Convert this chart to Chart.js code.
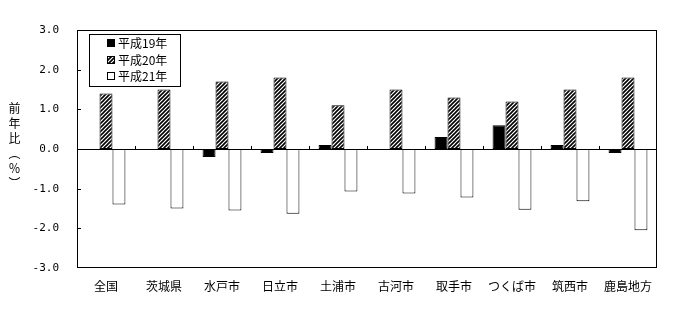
<!DOCTYPE html>
<html>
<head>
<meta charset="utf-8">
<script src="https://cdn.jsdelivr.net/npm/chart.js@4/dist/chart.umd.min.js"></script>
<style>
  html, body { margin: 0; padding: 0; background: #fff; }
  .wrap { position: relative; width: 673px; height: 312px; }
  #yTitle {
    position: absolute; left: 7px; top: 102px;
    writing-mode: vertical-rl;
    font: 12px "Noto Sans CJK JP", sans-serif;
    letter-spacing: 3px; line-height: 14px; color: #000;
  }
</style>
</head>
<body>
<div class="wrap">
  <canvas id="chart" width="673" height="312"></canvas>
  <div id="yTitle">前年比（％）</div>
</div>
<script>
// ── Data ─────────────────────────────────────────────────────────
const categories = ['全国', '茨城県', '水戸市', '日立市', '土浦市', '古河市', '取手市', 'つくば市', '筑西市', '鹿島地方'];
const seriesNames = ['平成19年', '平成20年', '平成21年'];
const h19 = [0, 0, -0.2, -0.1, 0.1, 0, 0.3, 0.6, 0.1, -0.1];
const h20 = [1.4, 1.5, 1.7, 1.8, 1.1, 1.5, 1.3, 1.2, 1.5, 1.8];
const h21 = [-1.4, -1.5, -1.55, -1.63, -1.07, -1.12, -1.22, -1.53, -1.32, -2.05];
const yTicks = [-3, -2, -1, 0, 1, 2, 3];

const FONT = '"Noto Sans CJK JP", sans-serif';

// ── Hatch pattern (////) ─────────────────────────────────────────
function hatch() {
  const c = document.createElement('canvas');
  c.width = 4; c.height = 4;
  const g = c.getContext('2d');
  g.fillStyle = '#fff'; g.fillRect(0, 0, 4, 4);
  g.strokeStyle = '#000'; g.lineWidth = 1.6;
  g.beginPath();
  g.moveTo(-1, 5); g.lineTo(5, -1);
  g.moveTo(-1, 1); g.lineTo(1, -1);
  g.moveTo(3, 5); g.lineTo(5, 3);
  g.stroke();
  return g.createPattern(c, 'repeat');
}
const HATCH = hatch();
const fills = ['#000', HATCH, '#fff'];

// ── Frame, zero line, ticks, legend ──────────────────────────────
const framePlugin = {
  id: 'frame',
  afterDatasetsDraw(chart) {
    const { ctx, chartArea: a, scales: { x, y } } = chart;
    const L = Math.round(a.left), R = Math.round(a.right);
    const T = Math.round(a.top), B = Math.round(a.bottom);
    ctx.save();
    ctx.fillStyle = '#000';
    // box
    ctx.fillRect(L, T, R - L, 1);
    ctx.fillRect(L, B - 1, R - L, 1);
    ctx.fillRect(L, T, 1, B - T);
    ctx.fillRect(R - 1, T, 1, B - T);
    // zero line
    const y0 = Math.round(y.getPixelForValue(0));
    ctx.fillRect(L, y0, R - L, 1);
    // inward y ticks
    yTicks.forEach(v => {
      const py = Math.round(y.getPixelForValue(v));
      ctx.fillRect(L, Math.min(py, B - 1), 4, 1);
    });
    // category boundary ticks on zero line
    const step = x.getPixelForValue(1) - x.getPixelForValue(0);
    for (let i = 1; i < categories.length; i++) {
      const px = Math.round(x.getPixelForValue(i) - step / 2);
      ctx.fillRect(px, y0 - 3, 1, 3);
    }

    // legend box
    const lx = 89, ly = 34, lw = 92, lh = 53;
    ctx.fillStyle = '#fff';
    ctx.fillRect(lx, ly, lw, lh);
    ctx.fillStyle = '#000';
    ctx.fillRect(lx, ly, lw, 1);
    ctx.fillRect(lx, ly + lh - 1, lw, 1);
    ctx.fillRect(lx, ly, 1, lh);
    ctx.fillRect(lx + lw - 1, ly, 1, lh);
    ctx.font = '12px ' + FONT;
    ctx.textBaseline = 'middle';
    chart.data.datasets.forEach((ds, i) => {
      const cy = Math.round(43 + i * 16.5);
      ctx.fillStyle = '#000';
      ctx.fillRect(107, cy - 4, 8, 8);
      ctx.fillStyle = ds.backgroundColor;
      ctx.fillRect(108, cy - 3, 6, 6);
      ctx.fillStyle = '#000';
      ctx.fillText(ds.label, 118, cy);
    });
    ctx.restore();
  }
};

new Chart(document.getElementById('chart'), {
  type: 'bar',
  data: {
    labels: categories,
    datasets: [h19, h20, h21].map((d, i) => ({
      label: seriesNames[i],
      data: d,
      backgroundColor: fills[i],
      borderColor: '#000',
      borderWidth: 1,
      borderSkipped: false,
      categoryPercentage: 0.67,
      barPercentage: 1.0
    }))
  },
  options: {
    responsive: false,
    animation: false,
    layout: { padding: { left: 0, right: 16, top: 30, bottom: 0 } },
    plugins: { legend: { display: false }, tooltip: { enabled: false } },
    scales: {
      x: {
        grid: { display: false, drawTicks: false },
        border: { display: false },
        ticks: { color: '#000', font: { family: FONT, size: 12 }, padding: 11, maxRotation: 0, autoSkip: false },
        afterFit: s => { s.height = 44; }
      },
      y: {
        min: -3, max: 3,
        grid: { display: false, drawTicks: false },
        border: { display: false },
        ticks: {
          stepSize: 1, color: '#000', padding: 18,
          font: { family: '"DejaVu Sans Mono", monospace', size: 11 },
          callback: v => v.toFixed(1)
        },
        afterFit: s => { s.width = 77; }
      }
    }
  },
  plugins: [framePlugin]
});
</script>
</body>
</html>
